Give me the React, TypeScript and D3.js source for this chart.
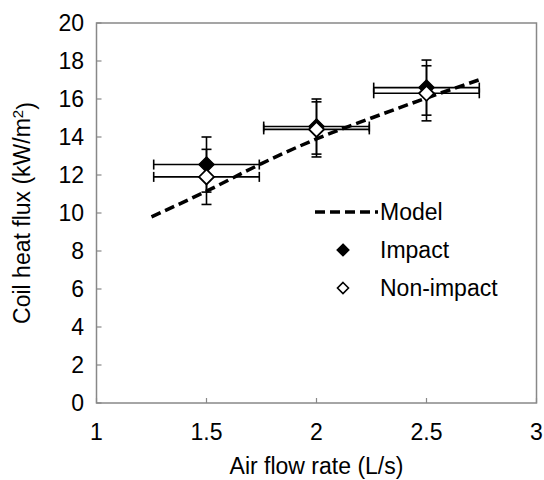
import React from 'react';
import * as d3 from 'd3';

const flowRates = [1.5, 2, 2.5];
const impact = [12.55, 14.55, 16.6];
const nonImpact = [11.9, 14.4, 16.3];
const xErr = 0.24;
const yErr = 1.45;
const modelX = [1.25, 1.5, 1.75, 2, 2.25, 2.5, 2.75];
const modelY = [9.8, 11.15, 12.6, 13.9, 15.0, 16.05, 17.05];
const xTicks = [1, 1.5, 2, 2.5, 3];
const yTicks = [0, 2, 4, 6, 8, 10, 12, 14, 16, 18, 20];

const W = 544, H = 480;
const font = 'Liberation Sans, Arial, sans-serif';
const fs = 23;

export default function App() {
  const x = d3.scaleLinear().domain([1, 3]).range([96.5, 536.5]);
  const y = d3.scaleLinear().domain([0, 20]).range([403, 23]);

  const line = d3.line<number>()
    .x((d, i) => x(modelX[i]))
    .y(d => y(d))
    .curve(d3.curveMonotoneX);

  const diamond = (cx: number, cy: number, r: number) =>
    `M${cx},${cy - r}L${cx + r},${cy}L${cx},${cy + r}L${cx - r},${cy}Z`;

  const errorBars = (vals: number[], key: string) =>
    vals.map((v, i) => {
      const cx = x(flowRates[i]), cy = y(v);
      const x0 = x(flowRates[i] - xErr), x1 = x(flowRates[i] + xErr);
      const y0 = y(v + yErr), y1 = y(v - yErr);
      return (
        <g key={key + i} stroke="#000" strokeWidth={1.6} fill="none">
          <line x1={x0} x2={x1} y1={cy} y2={cy} />
          <line x1={x0} x2={x0} y1={cy - 5} y2={cy + 5} />
          <line x1={x1} x2={x1} y1={cy - 5} y2={cy + 5} />
          <line x1={cx} x2={cx} y1={y0} y2={y1} />
          <line x1={cx - 5} x2={cx + 5} y1={y0} y2={y0} />
          <line x1={cx - 5} x2={cx + 5} y1={y1} y2={y1} />
        </g>
      );
    });

  return (
    <svg width={W} height={H} style={{ position: 'absolute', left: 0, top: 0 }} fontFamily={font}>
      <rect x={0} y={0} width={W} height={H} fill="#fff" />
      {/* frame */}
      <rect x={x(1)} y={y(20)} width={x(3) - x(1)} height={y(0) - y(20)} fill="none" stroke="#888" strokeWidth={1.5} />
      {yTicks.map(t => (
        <g key={'y' + t}>
          <line x1={x(1)} x2={x(1) + 5} y1={y(t)} y2={y(t)} stroke="#888" strokeWidth={1.2} />
          <text x={84} y={y(t)} dy="0.35em" textAnchor="end" fontSize={fs}>{t}</text>
        </g>
      ))}
      {xTicks.map(t => (
        <g key={'x' + t}>
          <line x1={x(t)} x2={x(t)} y1={y(0)} y2={y(0) - 5} stroke="#888" strokeWidth={1.2} />
          <text x={x(t)} y={432} dy="0.35em" textAnchor="middle" fontSize={fs}>{t}</text>
        </g>
      ))}
      <text x={x(2)} y={466} dy="0.35em" textAnchor="middle" fontSize={fs}>Air flow rate (L/s)</text>
      <text transform={`translate(22,${y(10)}) rotate(-90)`} dy="0.35em" textAnchor="middle" fontSize={fs}>
        Coil heat flux (kW/m<tspan dy="-0.45em" fontSize={15}>2</tspan><tspan dy="0.45em">)</tspan>
      </text>

      <path d={line(modelY) || ''} fill="none" stroke="#000" strokeWidth={3.5} strokeDasharray="10,5" />

      {errorBars(impact, 'ie')}
      {errorBars(nonImpact, 'ne')}
      {impact.map((v, i) => (
        <path key={'i' + i} d={diamond(x(flowRates[i]), y(v), 7.5)} fill="#000" stroke="#000" strokeWidth={1.5} />
      ))}
      {nonImpact.map((v, i) => (
        <path key={'n' + i} d={diamond(x(flowRates[i]), y(v), 7.5)} fill="#fff" stroke="#000" strokeWidth={1.8} />
      ))}

      {/* legend */}
      <line x1={315} x2={378} y1={212} y2={212} stroke="#000" strokeWidth={3.5} strokeDasharray="10,5" />
      <text x={380} y={212} dy="0.35em" fontSize={fs}>Model</text>
      <path d={diamond(343, 250, 6)} fill="#000" stroke="#000" strokeWidth={1.2} />
      <text x={380} y={250} dy="0.35em" fontSize={fs}>Impact</text>
      <path d={diamond(343, 288, 5.5)} fill="#fff" stroke="#000" strokeWidth={1.6} />
      <text x={380} y={288} dy="0.35em" fontSize={fs}>Non-impact</text>
    </svg>
  );
}
